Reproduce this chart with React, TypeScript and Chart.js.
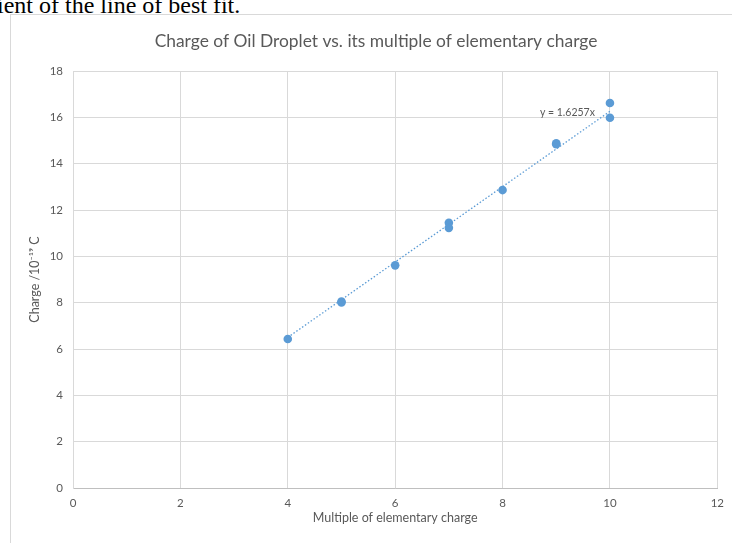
import React, { useEffect, useRef } from "react";
import { Chart, registerables } from "chart.js";

Chart.register(...registerables);

const multiples = [4, 5, 5, 6, 7, 7, 8, 9, 9, 10, 10];
const charges = [6.43, 8.01, 8.05, 9.61, 11.45, 11.23, 12.86, 14.88, 14.84, 16.62, 15.98];
const trendX = [4, 10];
const trendY = [6.5, 16.26];
const trendLabel = "y = 1.6257x";
const chartTitle = "Charge of Oil Droplet vs. its multiple of elementary charge";
const xTitle = "Multiple of elementary charge";
const yTitle = "Charge /10\u207B\u00B9\u2079 C";

const FONT = "Lato, 'Open Sans', sans-serif";
const BLUE = "#5B9BD5";
const GREY = "#595959";

const textPlugin = {
  id: "extraText",
  afterDatasetsDraw(chart: any) {
    const { ctx, scales } = chart;
    const x = scales.x.getPixelForValue(trendX[1]) - 15;
    const y = scales.y.getPixelForValue(trendY[1]) + 1;
    ctx.save();
    ctx.font = `10.5px ${FONT}`;
    ctx.fillStyle = GREY;
    ctx.textAlign = "right";
    ctx.textBaseline = "middle";
    ctx.fillText(trendLabel, x, y);
    ctx.font = `17.4px ${FONT}`;
    ctx.textAlign = "center";
    ctx.fillText(chartTitle, 376, 41);
    ctx.restore();
  },
};

export default function App() {
  const ref = useRef<HTMLCanvasElement | null>(null);

  useEffect(() => {
    if (!ref.current) return;
    const chart = new Chart(ref.current, {
      type: "scatter",
      data: {
        datasets: [
          {
            type: "line",
            data: trendX.map((x, i) => ({ x, y: trendY[i] })),
            borderColor: BLUE,
            borderWidth: 1.3,
            borderDash: [1.5, 2],
            pointRadius: 0,
            fill: false,
          } as any,
          {
            data: multiples.map((x, i) => ({ x, y: charges[i] })),
            backgroundColor: BLUE,
            borderColor: BLUE,
            pointRadius: 4.3,
            pointBorderWidth: 0,
          },
        ],
      },
      options: {
        animation: false,
        responsive: false,
        maintainAspectRatio: false,
        layout: { padding: { left: 0, right: 14, top: 71, bottom: 0 } },
        plugins: {
          legend: { display: false },
          tooltip: { enabled: false },
          title: { display: false },
        },
        scales: {
          x: {
            type: "linear",
            min: 0,
            max: 12,
            ticks: { stepSize: 2, color: GREY, padding: 8, font: { family: FONT, size: 11.5 } },
            grid: { color: "#D9D9D9", drawTicks: false },
            border: { color: "#BFBFBF" },
            title: {
              display: true,
              text: xTitle,
              color: GREY,
              font: { family: FONT, size: 12.5 },
              padding: { top: 0, bottom: 18 },
            },
            afterFit: (s: any) => {
              s.height = 55;
            },
          },
          y: {
            type: "linear",
            min: 0,
            max: 18,
            ticks: { stepSize: 2, color: GREY, padding: 10, font: { family: FONT, size: 11.5 } },
            grid: { color: "#D9D9D9", drawTicks: false },
            border: { color: "#D9D9D9" },
            title: {
              display: true,
              text: yTitle,
              color: GREY,
              font: { family: FONT, size: 12.5 },
              padding: { top: 27, bottom: 0 },
            },
            afterFit: (s: any) => {
              s.width = 73;
            },
          },
        },
      },
      plugins: [textPlugin],
    });
    return () => chart.destroy();
  }, []);

  return (
    <div
      style={{
        position: "fixed",
        left: 0,
        top: 0,
        width: 732,
        height: 543,
        background: "#fff",
        overflow: "hidden",
      }}
    >
      <div
        style={{
          position: "absolute",
          left: -3,
          top: -5,
          fontFamily: "'Liberation Serif', 'Times New Roman', serif",
          fontSize: 24,
          lineHeight: "20px",
          color: "#000",
          whiteSpace: "nowrap",
        }}
      >
        ient of the line of best fit.
      </div>
      <div
        style={{
          position: "absolute",
          left: 10,
          top: 14,
          width: 800,
          height: 600,
          border: "1px solid #D9D9D9",
          boxSizing: "border-box",
        }}
      />
      <canvas
        ref={ref}
        width={732}
        height={543}
        style={{ position: "absolute", left: 0, top: 0, width: 732, height: 543 }}
      />
    </div>
  );
}
